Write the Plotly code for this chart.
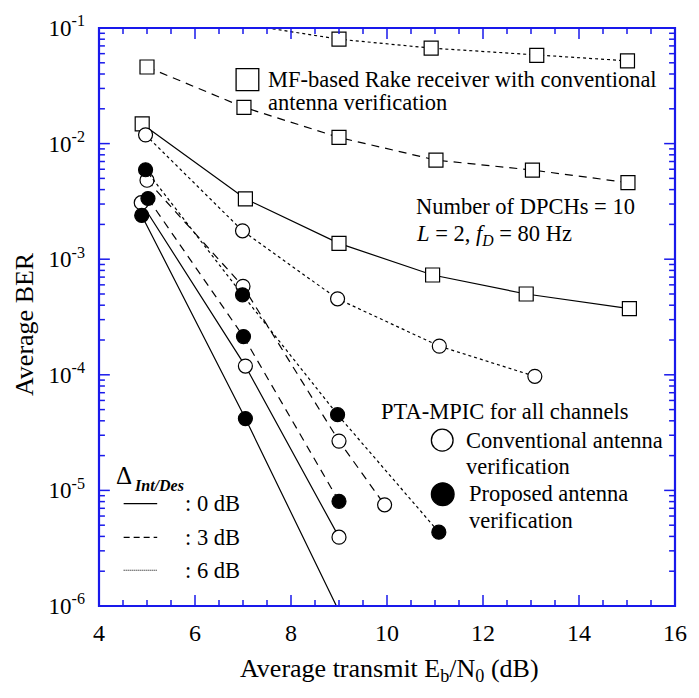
import math
import plotly.graph_objects as go

# ---- data: average BER vs average transmit Eb/N0 (dB) ----
# MF-based Rake receiver, conventional antenna verification (squares)
snr_rake_0dB = [4.9, 7.05, 9.0, 10.95, 12.9, 15.05]
ber_rake_0dB = [1.48e-2, 3.33e-3, 1.37e-3, 7.3e-4, 5.0e-4, 3.73e-4]
snr_rake_3dB = [5.0, 7.02, 9.0, 11.02, 13.03, 15.02]
ber_rake_3dB = [4.6e-2, 2.06e-2, 1.13e-2, 7.2e-3, 5.9e-3, 4.6e-3]
snr_rake_6dB = [7.0, 9.0, 10.92, 13.12, 15.01]
ber_rake_6dB = [1.08e-1, 8.0e-2, 6.7e-2, 5.8e-2, 5.2e-2]

# PTA-MPIC, conventional antenna verification (open circles)
snr_conv_0dB = [4.88, 7.05, 9.0]
ber_conv_0dB = [3.08e-3, 1.19e-4, 3.94e-6]
snr_conv_3dB = [5.0, 7.0, 9.0, 9.95]
ber_conv_3dB = [4.82e-3, 5.83e-4, 2.67e-5, 7.5e-6]
snr_conv_6dB = [4.97, 6.99, 8.97, 11.09, 13.08]
ber_conv_6dB = [1.19e-2, 1.76e-3, 4.54e-4, 1.77e-4, 9.7e-5]

# PTA-MPIC, proposed antenna verification (filled circles)
snr_prop_0dB = [4.89, 7.05, 9.0]
ber_prop_0dB = [2.39e-3, 4.18e-5, 9.0e-7]
snr_prop_3dB = [5.02, 7.01, 9.0]
ber_prop_3dB = [3.35e-3, 2.14e-4, 8.04e-6]
snr_prop_6dB = [4.97, 6.99, 8.97, 11.08]
ber_prop_6dB = [5.94e-3, 4.92e-4, 4.52e-5, 4.35e-6]

x_range = [4, 16]
y_decades = [-6, -5, -4, -3, -2, -1]

# ---- styling ----
FONT = "Liberation Serif"
AXIS_BLUE = "rgb(25, 25, 235)"
DASH = {"0": "solid", "3": "8px,6px", "6": "3px,3px"}

W, H = 699, 698
L, R, T, B = 99, 683, 24, 606  # plot area edges in pixels
PW, PH = R - L, B - T


def px(x):
    return (x - L) / PW


def py(y):
    return (B - y) / PH


fig = go.Figure()

y_lo, y_hi = 10.0 ** y_decades[0], 10.0 ** y_decades[-1]


def add_series(xs, ys, dash, symbol, fill):
    # connecting line through every point
    fig.add_trace(go.Scatter(
        x=xs, y=ys, mode="lines",
        line=dict(color="black", width=1.2, dash=dash),
        hoverinfo="skip", showlegend=False,
    ))
    # markers only for points inside the plotted BER range
    inside = [(x, y) for x, y in zip(xs, ys) if y_lo <= y <= y_hi]
    fig.add_trace(go.Scatter(
        x=[p[0] for p in inside], y=[p[1] for p in inside], mode="markers",
        marker=dict(symbol=symbol, size=14, color=fill,
                    line=dict(color="black", width=1.2)),
        showlegend=False,
    ))


add_series(snr_rake_0dB, ber_rake_0dB, DASH["0"], "square", "white")
add_series(snr_rake_3dB, ber_rake_3dB, DASH["3"], "square", "white")
add_series(snr_rake_6dB, ber_rake_6dB, DASH["6"], "square", "white")
add_series(snr_conv_0dB, ber_conv_0dB, DASH["0"], "circle", "white")
add_series(snr_conv_3dB, ber_conv_3dB, DASH["3"], "circle", "white")
add_series(snr_conv_6dB, ber_conv_6dB, DASH["6"], "circle", "white")
add_series(snr_prop_0dB, ber_prop_0dB, DASH["0"], "circle", "black")
add_series(snr_prop_3dB, ber_prop_3dB, DASH["3"], "circle", "black")
add_series(snr_prop_6dB, ber_prop_6dB, DASH["6"], "circle", "black")

# ---- in-plot annotations ----
annotations = []


def text(x, y, s, size=22.5, xanchor="left", **kw):
    annotations.append(dict(
        x=px(x), y=py(y), xref="paper", yref="paper", text=s,
        showarrow=False, xanchor=xanchor, yanchor="middle",
        font=dict(family=FONT, size=size, color="black"), **kw))


text(268, 76, "MF-based Rake receiver with conventional")
text(268, 99, "antenna verification")
text(418, 204, "Number of DPCHs = 10")
text(418, 232, "<i>L</i> = 2, <i>f</i><sub><i>D</i></sub> = 80 Hz")
text(383, 410, "PTA-MPIC for all channels")
text(469, 439, "Conventional antenna")
text(469, 466, "verification")
text(472, 493, "Proposed antenna")
text(472, 520, "verification")
text(114, 475, "Δ", size=25)
text(132, 485, "<b><i>Int/Des</i></b>", size=16)
text(184, 503, ": 0 dB")
text(184, 537, ": 3 dB")
text(184, 570, ": 6 dB")

# axis titles
text(394, 670, "Average transmit E<sub>b</sub>/N<sub>0</sub> (dB)", size=26,
     xanchor="center")
text(24, 322, "Average BER", size=26, xanchor="center", textangle=-90)

# ---- legend glyphs ----
shapes = [
    dict(type="rect", xref="paper", yref="paper",
         x0=px(238), x1=px(261), y0=py(87), y1=py(65),
         line=dict(color="black", width=1.3), fillcolor="white"),
    dict(type="circle", xref="paper", yref="paper",
         x0=px(436), x1=px(458), y0=py(450), y1=py(428),
         line=dict(color="black", width=1.3), fillcolor="white"),
    dict(type="circle", xref="paper", yref="paper",
         x0=px(436), x1=px(459), y0=py(505), y1=py(482),
         line=dict(color="black", width=1.3), fillcolor="black"),
    dict(type="line", xref="paper", yref="paper",
         x0=px(124), x1=px(158), y0=py(503), y1=py(503),
         line=dict(color="black", width=1.3)),
    dict(type="line", xref="paper", yref="paper",
         x0=px(124), x1=px(158), y0=py(537), y1=py(537),
         line=dict(color="black", width=1.3, dash="6px,4px")),
    dict(type="line", xref="paper", yref="paper",
         x0=px(124), x1=px(158), y0=py(570), y1=py(570),
         line=dict(color="black", width=1, dash="1px,1px")),
]

# ---- tick positions ----
y_major = [10.0 ** d for d in y_decades]
y_major_text = ["10<sup>%d</sup>" % d for d in y_decades]
y_minor = [k * 10.0 ** d for d in y_decades[:-1] for k in range(2, 10)]
x_major = list(range(4, 17, 2))
x_minor = [4 + 0.5 * i for i in range(25) if (0.5 * i) % 2]

# blue frame with inward ticks on all four sides
frame_line = dict(color=AXIS_BLUE, width=1.5)
MAJ, MIN = 11, 6


def xfrac(v):
    return (v - x_range[0]) / (x_range[1] - x_range[0])


def yfrac(v):
    return (math.log10(v) - y_decades[0]) / (y_decades[-1] - y_decades[0])


for v, n in [(v, MAJ) for v in x_major] + [(v, MIN) for v in x_minor]:
    f = xfrac(v)
    shapes.append(dict(type="line", xref="paper", yref="paper", x0=f, x1=f,
                       y0=0, y1=n / PH, line=frame_line))
    shapes.append(dict(type="line", xref="paper", yref="paper", x0=f, x1=f,
                       y0=1, y1=1 - n / PH, line=frame_line))
for v, n in [(v, MAJ) for v in y_major] + [(v, MIN) for v in y_minor]:
    f = yfrac(v)
    shapes.append(dict(type="line", xref="paper", yref="paper", y0=f, y1=f,
                       x0=0, x1=n / PW, line=frame_line))
    shapes.append(dict(type="line", xref="paper", yref="paper", y0=f, y1=f,
                       x0=1, x1=1 - n / PW, line=frame_line))
shapes.append(dict(type="rect", xref="paper", yref="paper", x0=0, x1=1,
                   y0=0, y1=1, line=dict(color=AXIS_BLUE, width=2.2)))

fig.update_layout(
    width=W, height=H,
    margin=dict(l=L, r=W - R, t=T, b=H - B),
    paper_bgcolor="white", plot_bgcolor="white",
    annotations=annotations, shapes=shapes,
    xaxis=dict(range=x_range, tickmode="array", tickvals=x_major,
               showline=False, ticks="", showgrid=False, zeroline=False,
               ticklabelstandoff=10,
               tickfont=dict(family=FONT, size=24, color="black")),
    yaxis=dict(type="log", range=[y_decades[0], y_decades[-1]],
               tickmode="array", tickvals=y_major, ticktext=y_major_text,
               showline=False, ticks="", showgrid=False, zeroline=False,
               ticklabelstandoff=13,
               tickfont=dict(family=FONT, size=23, color="black")),
)

fig.write_html("out.html")
